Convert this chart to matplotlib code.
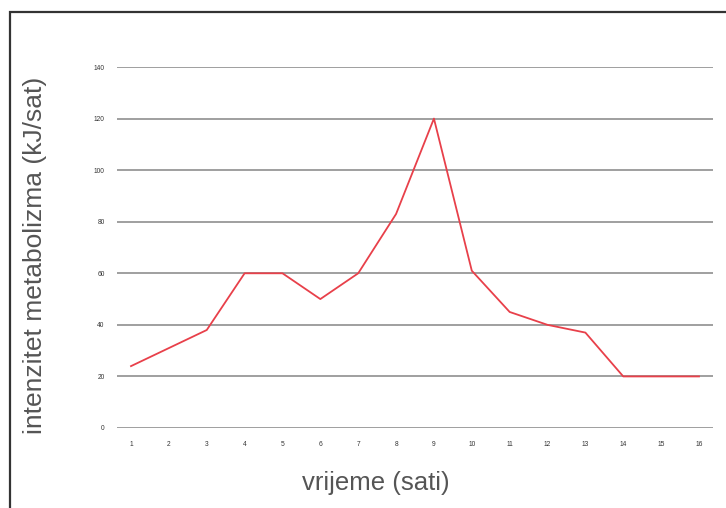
import numpy as np
import matplotlib.pyplot as plt
from matplotlib.patches import Rectangle

plt.rcParams['font.family'] = ['Liberation Sans', 'DejaVu Sans']

# podaci
sati = [1, 2, 3, 4, 5, 6, 7, 8, 9, 10, 11, 12, 13, 14, 15, 16]
intenzitet = [24, 31, 38, 60, 60, 50, 60, 83, 120, 61, 45, 40, 37, 20, 20, 20]
y_ticks = [0, 20, 40, 60, 80, 100, 120, 140]

W, H = 726, 508
fig = plt.figure(figsize=(W / 100, H / 100), dpi=100)
ax = fig.add_axes([117 / W, 1 - 428 / H, (713 - 117) / W, (428 - 67) / H])

ax.plot(sati, intenzitet, color='#e8404a', lw=1.3, zorder=3)

ax.set_xlim(0.63, 16.37)
ax.set_ylim(0, 140)
ax.set_xticks(sati)
ax.set_xticklabels([str(s) for s in sati], fontsize=4.8, color='#333333')
ax.set_yticks(y_ticks)
ax.set_yticklabels([str(v) for v in y_ticks], fontsize=4.8, color='#333333')
ax.tick_params(length=0, pad=9)
ax.yaxis.grid(True, color='#8f8f8f', lw=1.2)
ax.set_axisbelow(True)
for s in ax.spines.values():
    s.set_visible(False)

ax.set_ylabel('intenzitet metabolizma (kJ/sat)', fontsize=19, color='#555555', va='center')
ax.yaxis.set_label_coords((35 - 117) / 596, (428 - 255) / 361)
ax.set_xlabel('vrijeme (sati)', fontsize=18.5, color='#555555', va='center')
ax.xaxis.set_label_coords((376 - 117) / 596, (428 - 483) / 361)

# okvir
fig.patches.append(Rectangle((10 / W, -0.05), 1.1, 1 - 12 / H + 0.05,
                             transform=fig.transFigure, fill=False,
                             edgecolor='#333333', lw=1.6))

fig.savefig('out.png', dpi=100)
